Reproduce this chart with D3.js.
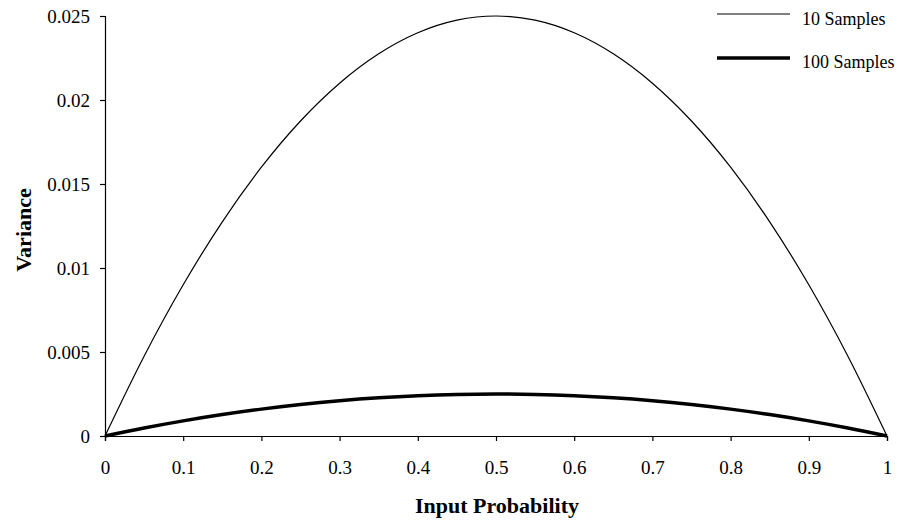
<!DOCTYPE html>
<html><head><meta charset="utf-8">
<script src="https://cdn.jsdelivr.net/npm/d3@7"></script>
<style>body{margin:0;background:#fff}svg{display:block}</style>
</head><body>
<script>
const probabilities = [0,0.05,0.1,0.15,0.2,0.25,0.3,0.35,0.4,0.45,0.5,0.55,0.6,0.65,0.7,0.75,0.8,0.85,0.9,0.95,1];
const samples10 = [0,0.00475,0.009,0.01275,0.016,0.01875,0.021,0.02275,0.024,0.02475,0.025,0.02475,0.024,0.02275,0.021,0.01875,0.016,0.01275,0.009,0.00475,0];
const samples100 = [0,0.000475,0.0009,0.001275,0.0016,0.001875,0.0021,0.002275,0.0024,0.002475,0.0025,0.002475,0.0024,0.002275,0.0021,0.001875,0.0016,0.001275,0.0009,0.000475,0];
const xTicks = [0,0.1,0.2,0.3,0.4,0.5,0.6,0.7,0.8,0.9,1];
const yTicks = [0,0.005,0.01,0.015,0.02,0.025];
const seriesNames = ["10 Samples","100 Samples"];

const W=905,H=521;
const svg=d3.select("body").append("svg").attr("width",W).attr("height",H);
const font="'Liberation Serif','Times New Roman',serif";
const x=d3.scaleLinear().domain([0,1]).range([105,887]);
const y=d3.scaleLinear().domain([0,0.025]).range([436,16]);

const xa=svg.append("g").attr("transform","translate(0,436)")
  .call(d3.axisBottom(x).tickValues(xTicks).tickSize(5).tickPadding(20).tickFormat(d=>String(d)));
const ya=svg.append("g").attr("transform","translate(105,0)")
  .call(d3.axisLeft(y).tickValues(yTicks).tickSize(5).tickPadding(10).tickFormat(d=>String(d)));
[xa,ya].forEach(g=>{
  g.selectAll("path").attr("stroke","#000").attr("stroke-width",1.2);
  g.selectAll("line").attr("stroke","#000").attr("stroke-width",1.2);
  g.selectAll("text").attr("font-family",font).attr("font-size",19).attr("fill","#000");
});

const line=d3.line().x((d,i)=>x(probabilities[i])).y(d=>y(d)).curve(d3.curveMonotoneX);
svg.append("path").datum(samples10).attr("d",line).attr("fill","none").attr("stroke","#000").attr("stroke-width",1.2);
svg.append("path").datum(samples100).attr("d",line).attr("fill","none").attr("stroke","#000").attr("stroke-width",3.5);

// legend
const lg=svg.append("g");
[[14,1.2,25],[58,3.5,68]].forEach(([ly,sw,ty],i)=>{
  lg.append("line").attr("x1",717).attr("x2",790).attr("y1",ly).attr("y2",ly).attr("stroke","#000").attr("stroke-width",sw);
  lg.append("text").attr("x",802).attr("y",ty).attr("font-family",font).attr("font-size",18).text(seriesNames[i]);
});

svg.append("text").attr("x",497).attr("y",513).attr("text-anchor","middle")
  .attr("font-family",font).attr("font-size",22).attr("font-weight","bold").text("Input Probability");
svg.append("text").attr("transform","translate(31,230) rotate(-90)").attr("text-anchor","middle")
  .attr("font-family",font).attr("font-size",22).attr("font-weight","bold").text("Variance");
</script>
</body></html>
